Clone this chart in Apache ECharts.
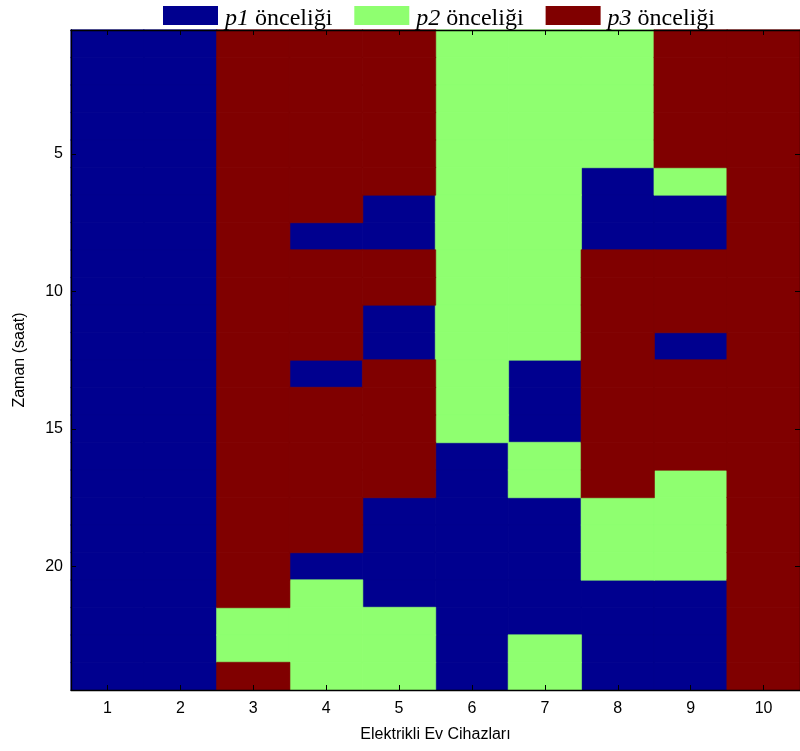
<!DOCTYPE html>
<html>
<head>
<meta charset="utf-8">
<script src="https://cdn.jsdelivr.net/npm/echarts@6/dist/echarts.min.js"></script>
<style>html,body{margin:0;padding:0;background:#fff;}#c{width:800px;height:751px;}</style>
</head>
<body>
<div id="c"></div>
<script>
// Categories
const appliances = ['1','2','3','4','5','6','7','8','9','10'];
const hours = ['1','2','3','4','5','6','7','8','9','10','11','12','13','14','15','16','17','18','19','20','21','22','23','24'];
const priorityNames = ['p1 önceliği','p2 önceliği','p3 önceliği'];
// Priority (1,2,3) per hour, one array per appliance
const app1  = [1,1,1,1,1,1,1,1,1,1,1,1,1,1,1,1,1,1,1,1,1,1,1,1];
const app2  = [1,1,1,1,1,1,1,1,1,1,1,1,1,1,1,1,1,1,1,1,1,1,1,1];
const app3  = [3,3,3,3,3,3,3,3,3,3,3,3,3,3,3,3,3,3,3,3,3,2,2,3];
const app4  = [3,3,3,3,3,3,3,1,3,3,3,3,1,3,3,3,3,3,3,1,2,2,2,2];
const app5  = [3,3,3,3,3,3,1,1,3,3,1,1,3,3,3,3,3,1,1,1,1,2,2,2];
const app6  = [2,2,2,2,2,2,2,2,2,2,2,2,2,2,2,1,1,1,1,1,1,1,1,1];
const app7  = [2,2,2,2,2,2,2,2,2,2,2,2,1,1,1,2,2,1,1,1,1,1,2,2];
const app8  = [2,2,2,2,2,1,1,1,3,3,3,3,3,3,3,3,3,2,2,2,1,1,1,1];
const app9  = [3,3,3,3,3,2,1,1,3,3,3,1,3,3,3,3,2,2,2,2,1,1,1,1];
const app10 = [3,3,3,3,3,3,3,3,3,3,3,3,3,3,3,3,3,3,3,3,3,3,3,3];
const priorityColors = ['#00008f','#8fff70','#800000'];

const matrix = [app1,app2,app3,app4,app5,app6,app7,app8,app9,app10];

function cellsFor(p){
  const out = [];
  matrix.forEach((col, xi) => col.forEach((v, yi) => { if (v === p) out.push([xi, yi, v]); }));
  return out;
}

const chart = echarts.init(document.getElementById('c'), null, {renderer:'canvas'});
const sans = 'Liberation Sans';
const serif = 'Liberation Serif';
const tickInt = (i) => (i + 1) % 5 === 0;

const axisCommonX = {
  type:'category', data: appliances, z:10,
  axisLine:{show:true, lineStyle:{color:'#000', width:1.3}},
  axisTick:{show:true, inside:true, alignWithLabel:true, length:5, lineStyle:{color:'#000'}},
  splitLine:{show:false}
};
const axisCommonY = {
  type:'category', data: hours, inverse:true, z:10,
  axisLine:{show:true, lineStyle:{color:'#000', width:1.3}},
  axisTick:{show:true, inside:true, alignWithLabel:true, length:5, interval: tickInt, lineStyle:{color:'#000'}},
  splitLine:{show:false}
};

chart.setOption({
  backgroundColor:'#fff',
  animation:false,
  legend:{
    left:163, top:6, padding:0,
    itemWidth:53, itemHeight:17, itemGap:22,
    icon:'rect',
    data: priorityNames,
    formatter: (n) => '{i|' + n.split(' ')[0] + '} ' + n.split(' ')[1],
    textStyle:{fontFamily:serif, fontSize:24, color:'#000', padding:[6,0,0,3], rich:{
      i:{fontFamily:serif, fontStyle:'italic', fontSize:24, color:'#000'}
    }}
  },
  grid:{left:71, top:30, width:733, height:660, containLabel:false},
  xAxis:[
    Object.assign({}, axisCommonX, {
      position:'bottom',
      name:'Elektrikli Ev Cihazları', nameLocation:'middle', nameGap:37,
      nameTextStyle:{fontFamily:sans, fontSize:16, color:'#000'},
      axisLabel:{fontFamily:sans, fontSize:16, color:'#000', margin:11}
    }),
    Object.assign({}, axisCommonX, {position:'top', axisLabel:{show:false}})
  ],
  yAxis:[
    Object.assign({}, axisCommonY, {
      position:'left',
      name:'Zaman (saat)', nameLocation:'middle', nameGap:43,
      nameTextStyle:{fontFamily:sans, fontSize:16, color:'#000'},
      axisLabel:{fontFamily:sans, fontSize:16, color:'#000', margin:8, interval: tickInt}
    }),
    Object.assign({}, axisCommonY, {position:'right', axisLabel:{show:false}})
  ],
  series: priorityNames.map((n, k) => ({
    name:n, type:'heatmap', xAxisIndex:0, yAxisIndex:0,
    data: cellsFor(k + 1),
    itemStyle:{color: priorityColors[k], borderColor: priorityColors[k], borderWidth:0.6},
    emphasis:{disabled:true},
    progressive:0
  }))
});
</script>
</body>
</html>
